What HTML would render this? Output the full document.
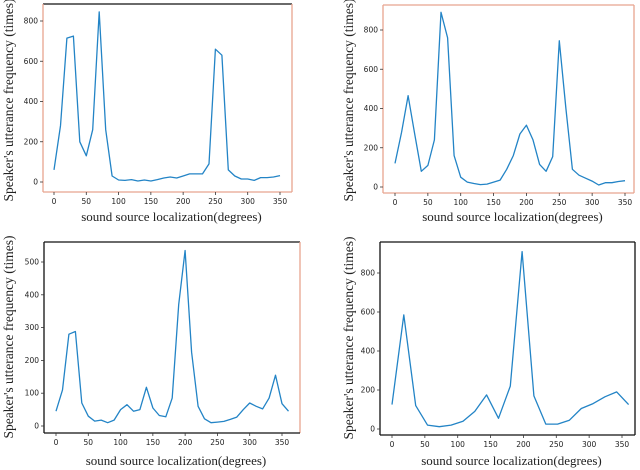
<!DOCTYPE html>
<html><head><meta charset="utf-8"><style>
html,body{margin:0;padding:0;background:#fff;}
svg{display:block;}
</style></head><body>
<svg id="c" width="640" height="470" xmlns="http://www.w3.org/2000/svg"></svg>
<script>
const xs1 = [0,10,20,30,40,50,60,70,80,90,100,110,120,130,140,150,160,170,180,190,200,210,220,230,240,250,260,270,280,290,300,310,320,330,340,350];
const ys1 = [60,280,715,725,200,130,260,845,260,30,10,8,12,5,10,5,12,20,25,20,30,40,40,40,90,660,630,60,30,15,15,8,22,22,25,32];
const xs2 = xs1;
const ys2 = [120,280,465,270,80,110,240,890,760,160,50,25,18,12,15,25,35,90,160,270,315,240,115,80,155,745,400,90,60,45,30,10,22,22,28,32];
const xs3 = [0,10,20,30,40,50,60,70,80,90,100,110,120,130,140,150,160,170,180,190,200,210,220,230,240,250,260,270,280,290,300,310,320,330,340,350,360];
const ys3 = [45,110,280,288,70,30,15,18,10,18,50,65,45,50,118,55,32,28,85,370,535,225,60,22,10,12,14,20,27,50,70,60,52,85,155,68,45];
const xs4 = [0,18,36,54,72,90,108,126,144,162,180,198,216,234,252,270,288,306,324,342,360];
const ys4 = [125,585,120,20,12,20,40,90,175,55,220,910,170,25,25,45,105,130,165,190,125];
const xTicks = [0,50,100,150,200,250,300,350];
const yTicks1 = [0,200,400,600,800];
const yTicks3 = [0,100,200,300,400,500];

const NS="http://www.w3.org/2000/svg";
const svg=document.getElementById('c');
function mk(tag,attrs,parent){const e=document.createElementNS(NS,tag);for(const k in attrs)e.setAttribute(k,attrs[k]);(parent||svg).appendChild(e);return e;}

const panels=[
 {id:'top-left',frame:[43,4,292,192],borders:['#111','#e8a58f','#e8a58f','#e8a58f'],x0:54,x350:280,y0:182,yRef:800,yRefPx:21,xs:xs1,ys:ys1,yt:yTicks1,ylabX:9,ylabY:100,titleY:221},
 {id:'top-right',frame:[383,5,634,193],borders:['#e8a58f','#e8a58f','#e8a58f','#e8a58f'],x0:395,x350:625,y0:187,yRef:800,yRefPx:30,xs:xs2,ys:ys2,yt:yTicks1,ylabX:349,ylabY:100,titleY:221},
 {id:'bottom-left',frame:[44,242,300,433],borders:['#111','#e8a58f','#111','#111'],x0:56,x350:282,y0:426,yRef:500,yRefPx:262,xs:xs3,ys:ys3,yt:yTicks3,ylabX:9,ylabY:337,titleY:465},
 {id:'bottom-right',frame:[380,242,635,435],borders:['#111','#111','#111','#111'],x0:392,x350:622,y0:429,yRef:800,yRefPx:273,xs:xs4,ys:ys4,yt:yTicks1,ylabX:349,ylabY:338,titleY:465}
];

panels.forEach(p=>{
  const g=mk('g',{});
  
  
  const sx=v=>p.x0+(p.x350-p.x0)*v/350;
  const sy=v=>p.y0-(p.y0-p.yRefPx)*v/p.yRef;
  const [l,t,r,b]=p.frame;
  const sides=[[l,t,r,t],[r,t,r,b],[l,b,r,b],[l,t,l,b]];
  sides.forEach((s,i)=>{
    const ln=mk('line',{x1:s[0],y1:s[1],x2:s[2],y2:s[3],stroke:p.borders[i],'stroke-width':1.3},g);
    
    
  });
  xTicks.forEach(v=>{
    const x=sx(v);
    const tk=mk('line',{x1:x,y1:b,x2:x,y2:b+3,stroke:'#333','stroke-width':0.8},g);
    
    
    const tx=mk('text',{x:x,y:b+12,'font-size':7.5,'text-anchor':'middle','font-family':'"DejaVu Sans",sans-serif',fill:'#222'},g);
    tx.textContent=v;
    
    
  });
  p.yt.forEach(v=>{
    const y=sy(v);
    const tk=mk('line',{x1:l-3,y1:y,x2:l,y2:y,stroke:'#333','stroke-width':0.8},g);
    
    
    const tx=mk('text',{x:l-5,y:y+2.5,'font-size':7.5,'text-anchor':'end','font-family':'"DejaVu Sans",sans-serif',fill:'#222'},g);
    tx.textContent=v;
    
    
  });
  const pts=p.xs.map((x,i)=>sx(x).toFixed(1)+','+sy(p.ys[i]).toFixed(1)).join(' ');
  const pl=mk('polyline',{points:pts,fill:'none',stroke:'#2384c6','stroke-width':1.3,'stroke-linejoin':'round'},g);
  
  
  const yl=mk('text',{x:0,y:0,transform:`translate(${p.ylabX+4},${p.ylabY}) rotate(-90)`,'font-size':13.5,'text-anchor':'middle','font-family':'"Liberation Serif",serif',fill:'#222'},g);
  yl.textContent="Speaker's utterance frequency (times)";
  
  
  const xl=mk('text',{x:(l+r)/2+4,y:p.titleY,'font-size':13,'text-anchor':'middle','font-family':'"Liberation Serif",serif',fill:'#222'},g);
  xl.textContent="sound source localization(degrees)";
  
  
});
</script>
</body></html>
